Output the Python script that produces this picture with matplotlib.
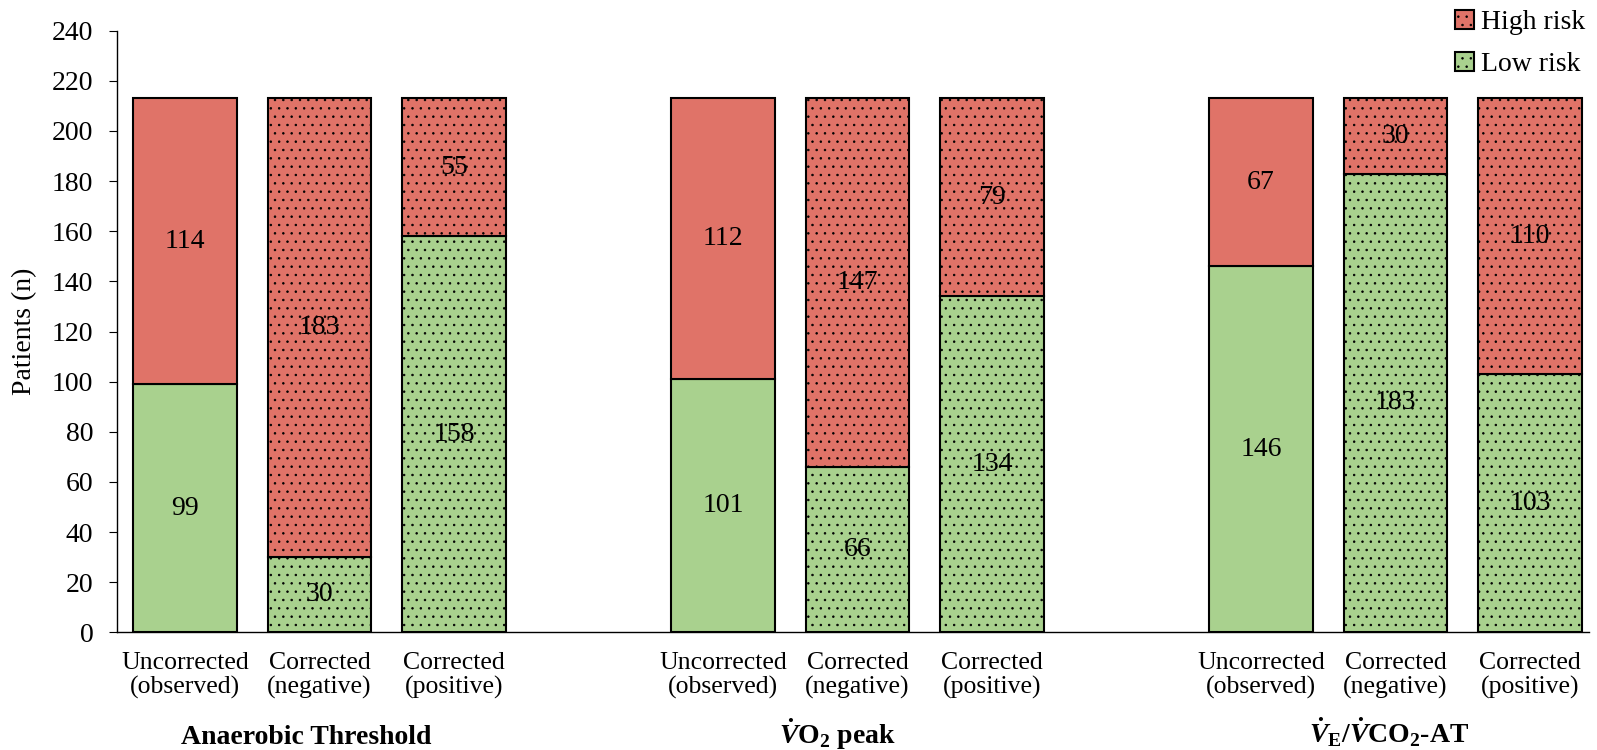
import matplotlib.pyplot as plt
from matplotlib.patches import Patch

plt.rcParams['font.family'] = 'Liberation Serif'
plt.rcParams['mathtext.fontset'] = 'custom'
plt.rcParams['mathtext.rm'] = 'Liberation Serif:bold'
plt.rcParams['mathtext.it'] = 'Liberation Serif:italic:bold'
plt.rcParams['hatch.linewidth'] = 0.55

# stacked counts per group: uncorrected, corrected negative, corrected positive
groups = ['Anaerobic Threshold', r'$\dot{V}$O$_2$ peak', r'$\dot{V}_{\mathrm{E}}$/$\dot{V}$CO$_2$-AT']
cats = ['Uncorrected\n(observed)', 'Corrected\n(negative)', 'Corrected\n(positive)']
low_risk = [99, 30, 158, 101, 66, 134, 146, 183, 103]
high_risk = [114, 183, 55, 112, 147, 79, 67, 30, 110]

red = '#E07368'
green = '#A9D18E'

fig = plt.figure(figsize=(15.97, 7.5), dpi=100)
ax = fig.add_axes([0.0733, 0.157, 0.9218, 0.802])

pos = []
for g in range(3):
    for k in range(3):
        pos.append(g * 4 + k)

for i, x in enumerate(pos):
    hatch = None if i % 3 == 0 else '..'
    ax.bar(x, low_risk[i], 0.77, color=green, edgecolor='black', linewidth=1.5, hatch=hatch)
    ax.bar(x, high_risk[i], 0.77, bottom=low_risk[i], color=red, edgecolor='black', linewidth=1.5, hatch=hatch)
    ax.text(x, low_risk[i] / 2, str(low_risk[i]), ha='center', va='center', fontsize=20)
    ax.text(x, low_risk[i] + high_risk[i] / 2, str(high_risk[i]), ha='center', va='center', fontsize=20)

ax.set_xlim(-0.505, 10.44)
ax.set_ylim(0, 240)
ax.set_yticks(range(0, 241, 20))
ax.set_xticks(pos)
ax.set_xticklabels(cats * 3, fontsize=18.5, linespacing=1.15)
ax.tick_params(axis='x', length=0, pad=14)
ax.tick_params(axis='y', labelsize=20, length=6, direction='out', pad=11)
ax.set_ylabel('Patients (n)', fontsize=20)
ax.yaxis.set_label_coords(-0.0543, 0.5)
for s in ['top', 'right']:
    ax.spines[s].set_visible(False)
ax.spines['left'].set_linewidth(1.0)
ax.spines['bottom'].set_linewidth(1.0)

nudge = [-0.1, -0.15, -0.05]
for g in range(3):
    ax.text(g * 4 + 1 + nudge[g], -0.185, groups[g], transform=ax.get_xaxis_transform(),
            ha='center', va='baseline', fontsize=20, fontweight='bold')

handles = [Patch(facecolor=red, edgecolor='black', linewidth=1.5, hatch='..', label='High risk'),
           Patch(facecolor=green, edgecolor='black', linewidth=1.5, hatch='..', label='Low risk')]
fig.legend(handles=handles, loc='upper right', bbox_to_anchor=(1.008, 1.02), frameon=False,
           fontsize=20, handlelength=0.68, handleheight=0.68, handletextpad=0.25, labelspacing=0.6)

fig.savefig('out.png', dpi=100)
